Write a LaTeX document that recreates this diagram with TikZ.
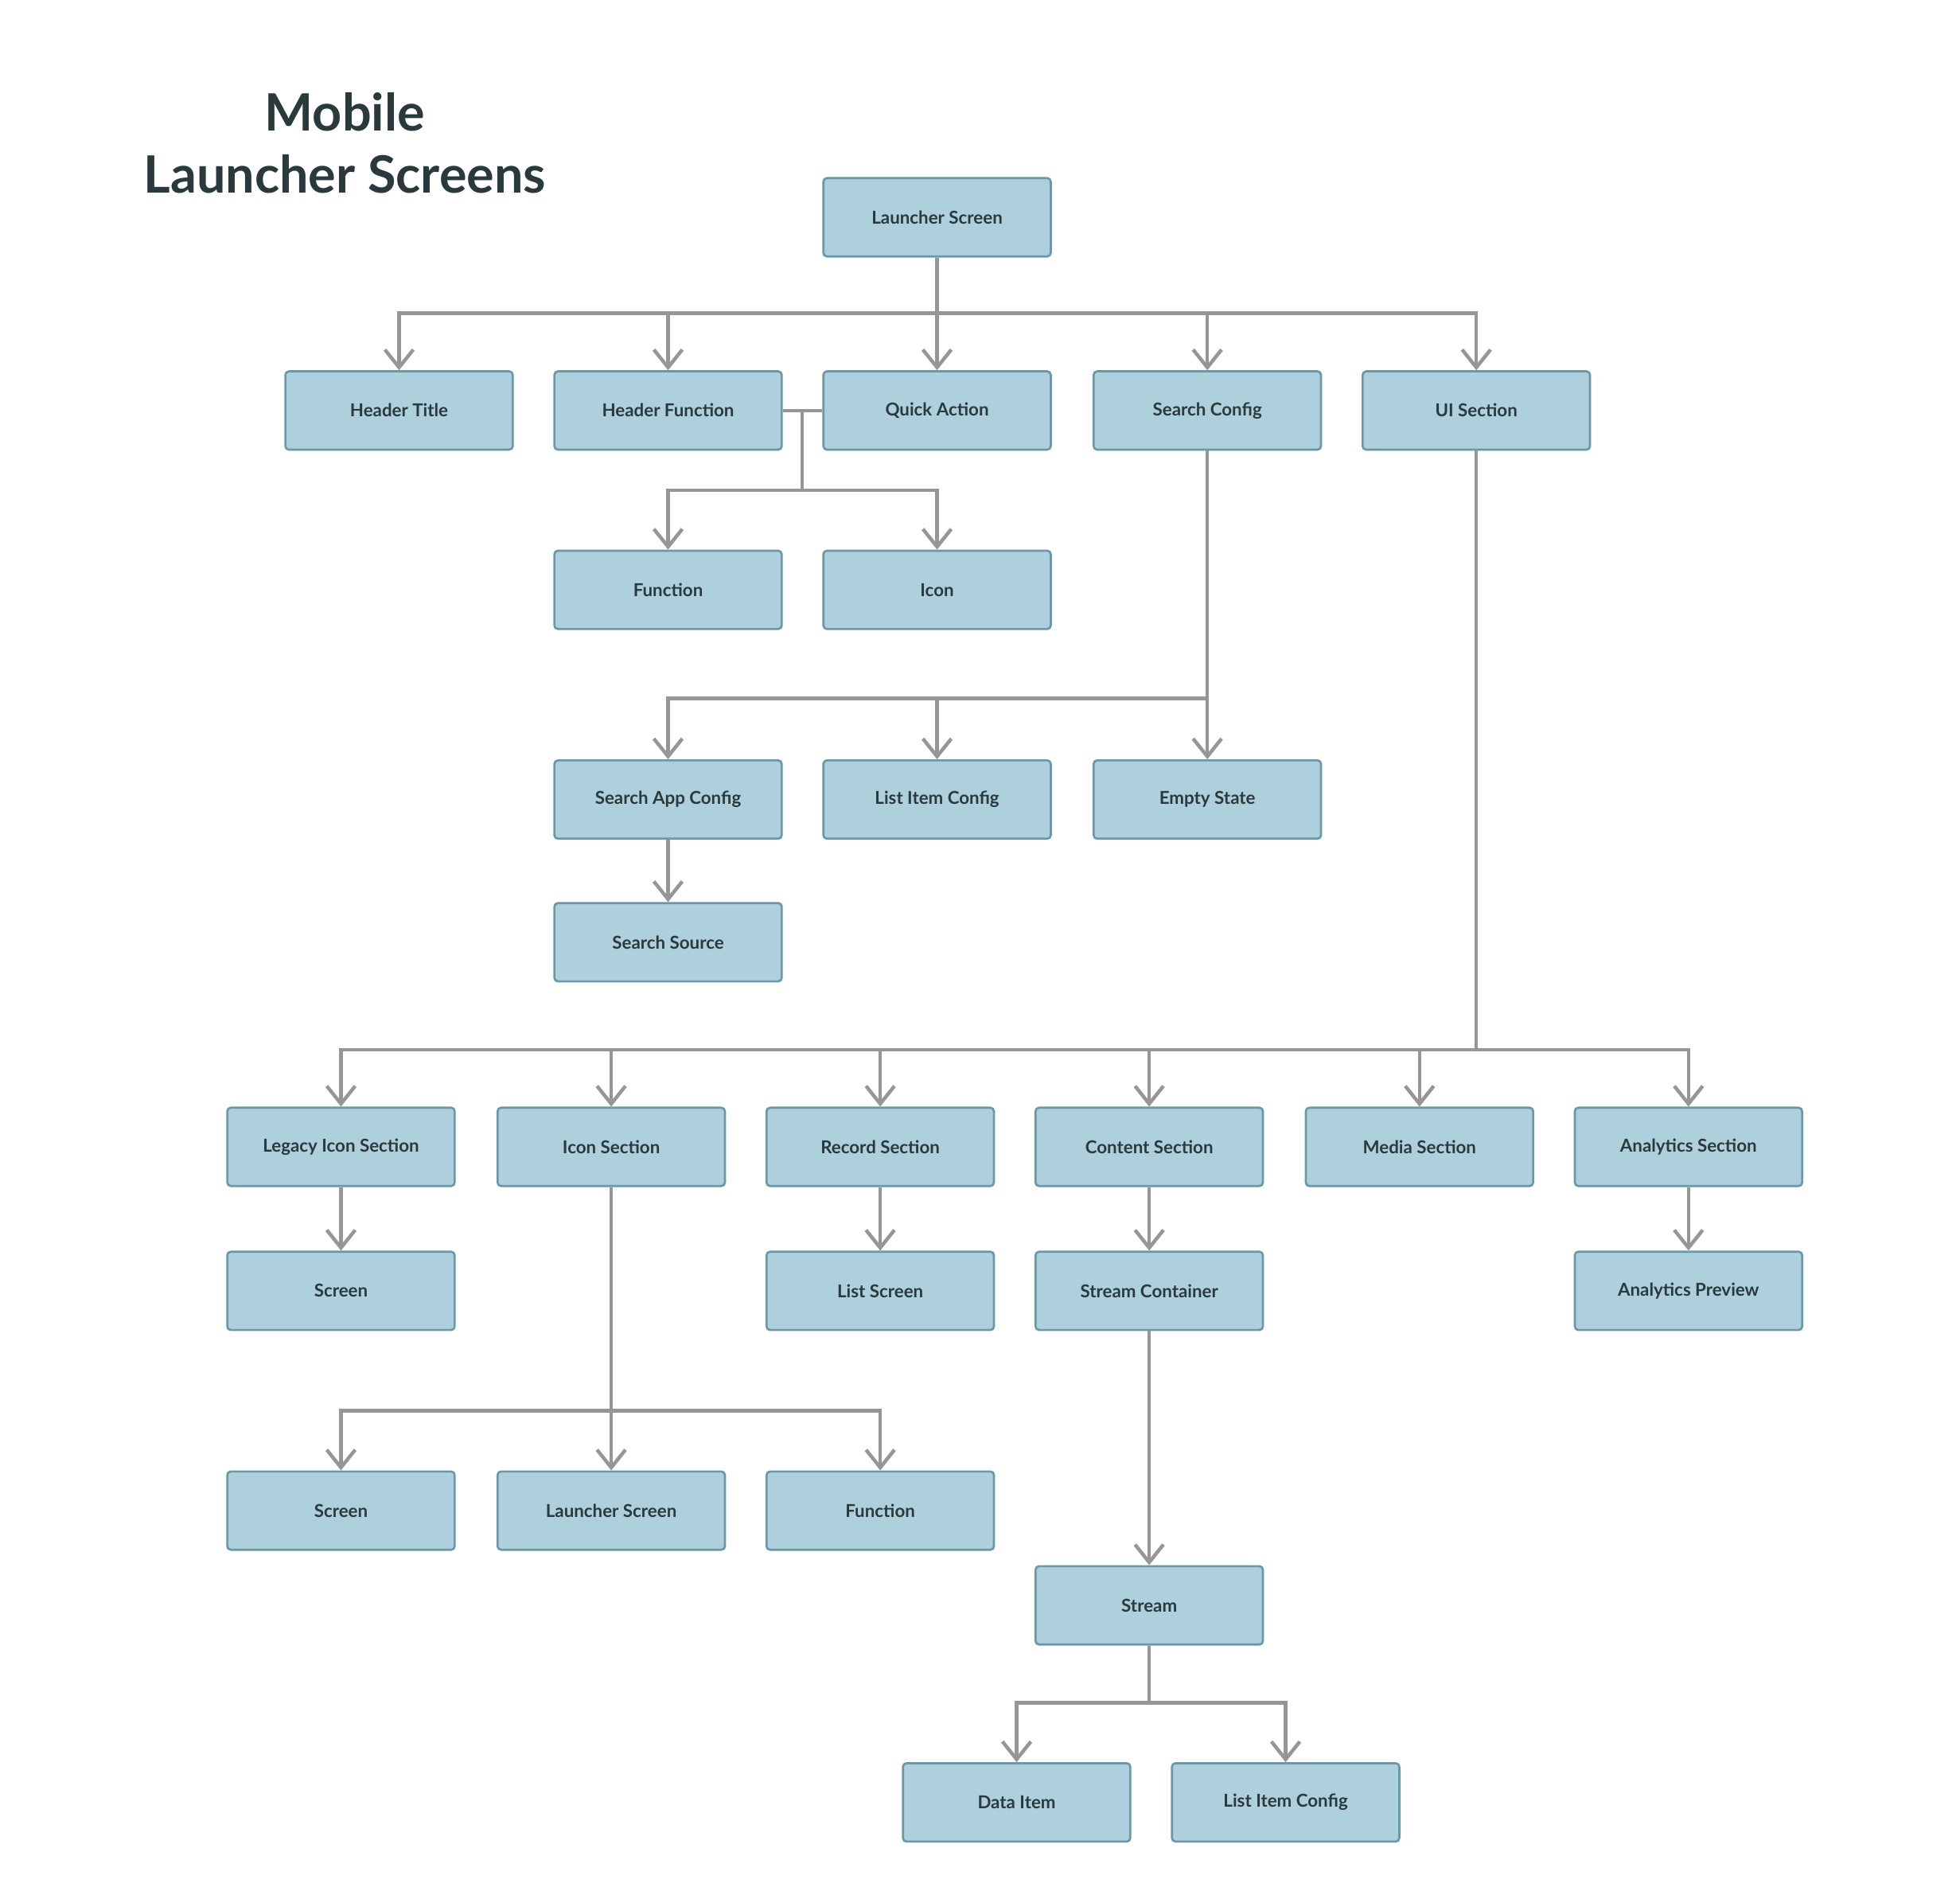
\documentclass[tikz,border=0pt]{standalone}
\usepackage{fontspec}
\setmainfont{Lato}
\usetikzlibrary{arrows.meta, positioning}
\definecolor{boxfill}{HTML}{AED0DC}
\definecolor{boxdraw}{HTML}{6A98A8}
\definecolor{linkgray}{HTML}{969696}
\definecolor{inkdark}{HTML}{2A3A3C}
\begin{document}
\begin{tikzpicture}[
    x=0.025cm, y=-0.025cm,
    box/.style={rectangle, draw=boxdraw, fill=boxfill, line width=1.2pt, rounded corners=2pt,
        minimum width=4.5cm, minimum height=1.55cm, text=inkdark, font=\bfseries\fontsize{10}{12}\selectfont},
    link/.style={draw=linkgray, line width=2pt},
    arrow/.style={link, -{Straight Barb[length=10pt, width=16pt, line width=2pt]}}
]
\useasboundingbox (0,0) rectangle (1552,1500);

% title
\node[text=inkdark, font=\bfseries\fontsize{29}{35}\selectfont, align=center] (title) at (273,113) {Mobile\\Launcher Screens};

% top levels
\node[box] (launcher) at (742,172) {Launcher Screen};
\node[box] (htitle) at (316,325) {Header Title};
\node[box] (hfunc) at (529,325) {Header Function};
\node[box] (qaction) at (742,325) {Quick Action};
\node[box] (sconfig) at (956,325) {Search Config};
\node[box] (uisec) at (1169,325) {UI Section};

\node[box] (func) at (529,467) {Function};
\node[box] (icon) at (742,467) {Icon};

\node[box] (sappcfg) at (529,633) {Search App Config};
\node[box] (listcfg) at (742,633) {List Item Config};
\node[box] (empty) at (956,633) {Empty State};
\node[box] (ssource) at (529,746) {Search Source};

% ui sections
\node[box] (legacy) at (270,908) {Legacy Icon Section};
\node[box] (iconsec) at (484,908) {Icon Section};
\node[box] (record) at (697,908) {Record Section};
\node[box] (content) at (910,908) {Content Section};
\node[box] (media) at (1124,908) {Media Section};
\node[box] (analytics) at (1337,908) {Analytics Section};

\node[box] (lscreen) at (270,1022) {Screen};
\node[box] (listscr) at (697,1022) {List Screen};
\node[box] (scont) at (910,1022) {Stream Container};
\node[box] (apreview) at (1337,1022) {Analytics Preview};

\node[box] (iscreen) at (270,1196) {Screen};
\node[box] (ilaunch) at (484,1196) {Launcher Screen};
\node[box] (ifunc) at (697,1196) {Function};

\node[box] (stream) at (910,1271) {Stream};
\node[box] (ditem) at (805,1427) {Data Item};
\node[box] (slistcfg) at (1018,1427) {List Item Config};

% branch points
\coordinate (b1) at (742,248);
\coordinate (b2) at (635,325);
\coordinate (b2d) at (635,388);
\coordinate (b3) at (956,553);
\coordinate (b4) at (1169,831);
\coordinate (b5) at (484,1117);
\coordinate (b6) at (910,1348);

\draw[link] (launcher) -- (b1);
\foreach \n in {htitle, hfunc, qaction, sconfig, uisec}
    \draw[arrow] (b1) -| (\n.north);

\draw[link] (hfunc.east) -- (qaction.west);
\draw[link] (b2) -- (b2d);
\foreach \n in {func, icon}
    \draw[arrow] (b2d) -| (\n.north);

\draw[link] (sconfig) -- (b3);
\foreach \n in {sappcfg, listcfg, empty}
    \draw[arrow] (b3) -| (\n.north);
\draw[arrow] (sappcfg) -- (ssource);

\draw[link] (uisec) -- (b4);
\foreach \n in {legacy, iconsec, record, content, media, analytics}
    \draw[arrow] (b4) -| (\n.north);

\draw[arrow] (legacy) -- (lscreen);
\draw[arrow] (record) -- (listscr);
\draw[arrow] (content) -- (scont);
\draw[arrow] (analytics) -- (apreview);

\draw[link] (iconsec) -- (b5);
\foreach \n in {iscreen, ilaunch, ifunc}
    \draw[arrow] (b5) -| (\n.north);

\draw[arrow] (scont) -- (stream);
\draw[link] (stream) -- (b6);
\foreach \n in {ditem, slistcfg}
    \draw[arrow] (b6) -| (\n.north);

\end{tikzpicture}
\end{document}
